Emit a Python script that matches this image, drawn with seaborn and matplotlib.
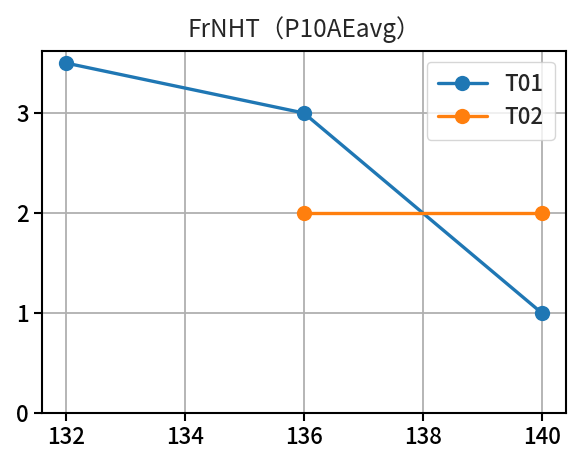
import pandas as pd
import seaborn as sns
import matplotlib.pyplot as plt

# ---------- data ----------
t01_x = [132, 136, 140]
t01_y = [3.5, 3.0, 1.0]
t02_x = [136, 140]
t02_y = [2.0, 2.0]
title = 'FrNHT（P10AEavg）'

df = pd.DataFrame({
    'x': t01_x + t02_x,
    'y': t01_y + t02_y,
    'series': ['T01'] * len(t01_x) + ['T02'] * len(t02_x),
})

sns.set_style('white')
plt.rcParams['font.family'] = ['Noto Sans CJK JP', 'DejaVu Sans']
plt.rcParams['font.weight'] = 'medium'

fig, ax = plt.subplots(figsize=(5.68, 4.55), dpi=100)
fig.subplots_adjust(left=0.074, right=0.996, bottom=0.092, top=0.889)

sns.lineplot(data=df, x='x', y='y', hue='series',
             palette=['#1f77b4', '#ff7f0e'], marker='o',
             markersize=11, markeredgewidth=0, linewidth=2.4, ax=ax)

ax.set_ylim(bottom=0)
ax.set_xticks([132, 134, 136, 138, 140])
ax.set_yticks([0, 1, 2, 3])
ax.set_xlabel('')
ax.set_ylabel('')
ax.grid(True, color='#b0b0b0', linewidth=1.3)
ax.tick_params(labelsize=16, length=6, width=1.5, direction='out',
               bottom=True, left=True, colors='black')
for s in ax.spines.values():
    s.set_color('black')
    s.set_linewidth(1.5)

ax.set_title(title, fontsize=17.5, pad=10)
h, l = ax.get_legend_handles_labels()
ax.legend(h, l, loc='upper right', fontsize=16, handlelength=2.2,
          borderpad=0.5, labelspacing=0.45, handletextpad=0.8)

fig.savefig('out.png', dpi=100)
